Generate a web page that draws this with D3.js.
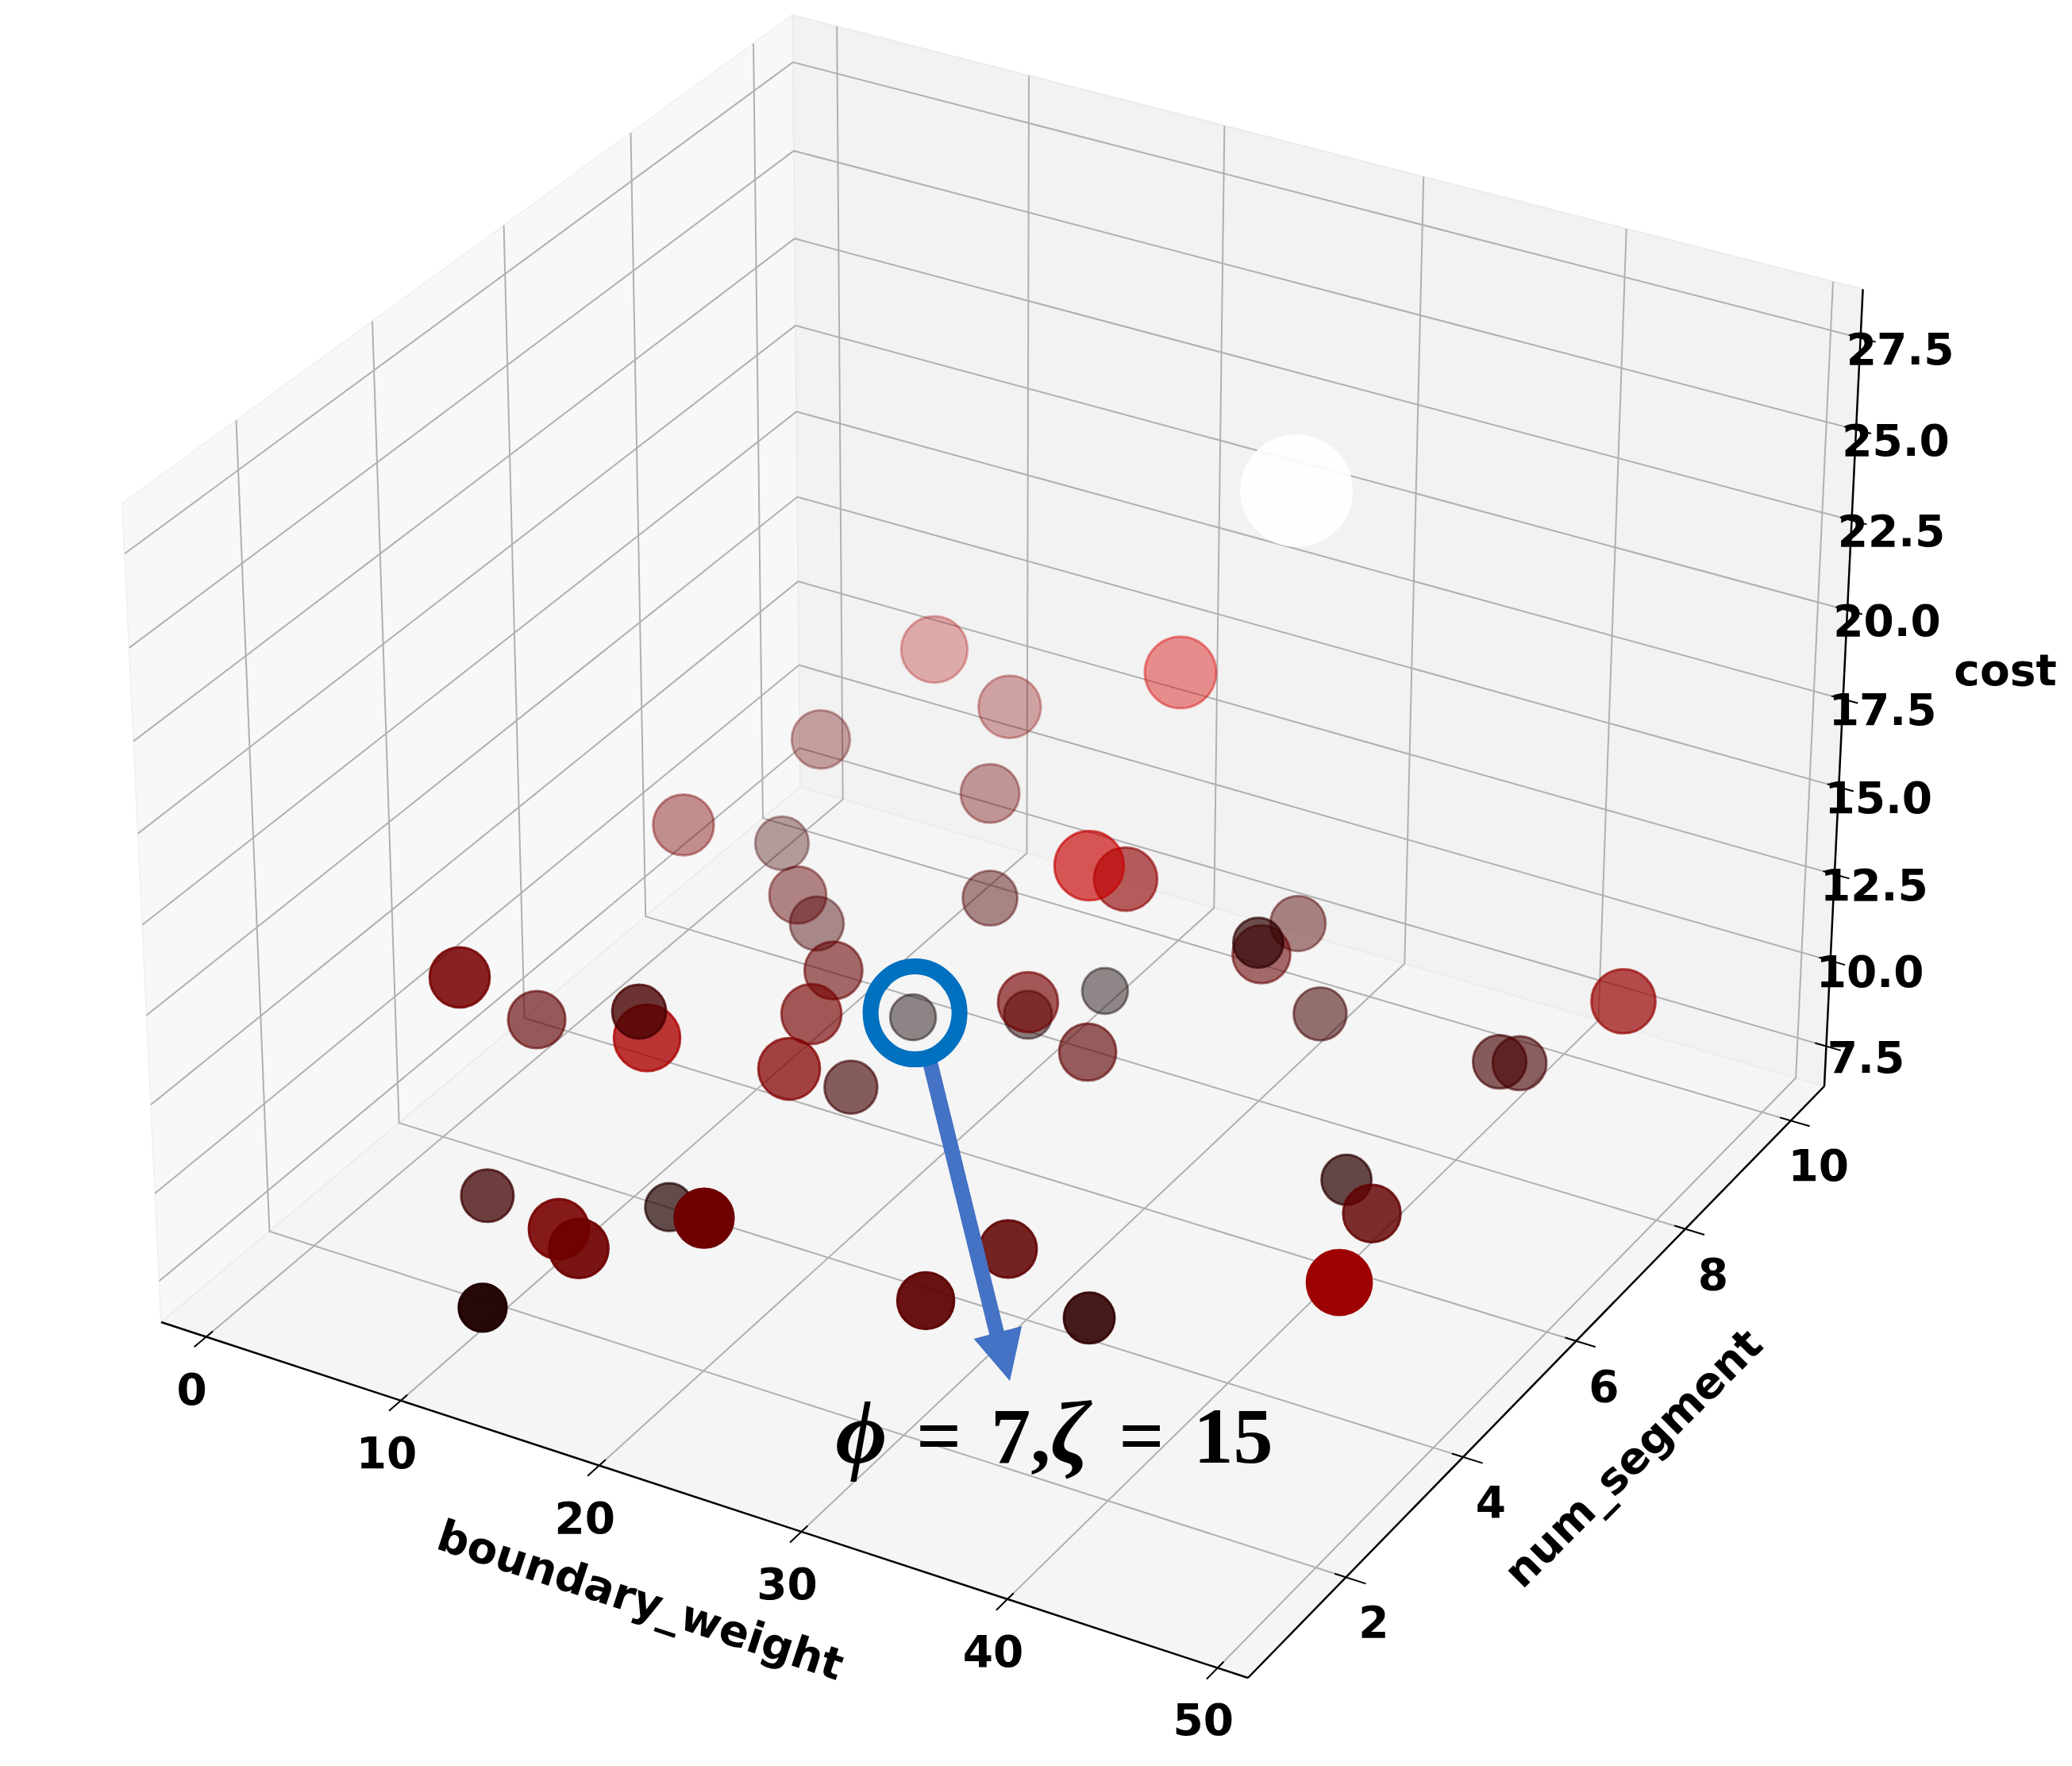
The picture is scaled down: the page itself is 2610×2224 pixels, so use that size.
<!DOCTYPE html>
<html><head><meta charset="utf-8"><script src="https://cdnjs.cloudflare.com/ajax/libs/d3/7.8.5/d3.min.js"></script>
<style>html,body{margin:0;background:#fff}</style></head><body><svg id="c" width="2610" height="2224"></svg>
<script>
// ---- data ----
const boundaryWeight=[33.05,20.54,7.94,12.23,5.62,3.08,13.62,5.72,9.08,9.75,13.76,16.35,6.32,4.44,11.78,12.16,15.13,16.82,16.82,14.77,23.14,20.14,21.74,25.59,32.10,30.01,29.03,32.47,24.13,25.10,46.72,41.51,41.97,38.66,42.14,45.03,34.02,29.69,28.64,21.13,12.81,15.12,13.45,7.08,13.22];
const numSegment=[7.4,9.8,9.7,9.6,8.5,7.0,8.8,7.8,7.0,7.1,6.1,7.9,2.5,4.2,3.6,3.6,5.3,4.4,5.4,7.1,6.3,7.3,8.1,6.5,7.2,8.0,9.0,8.2,7.0,7.3,8.5,8.2,8.4,6.5,5.7,4.1,3.7,3.8,2.8,1.7,3.7,1.6,1.8,2.6,0.7];
const cost=[24.96,14.59,13.42,12.56,12.13,11.40,11.40,10.12,10.34,9.47,10.28,10.11,14.29,10.18,12.57,11.89,10.47,10.57,8.49,7.56,10.64,8.24,7.99,9.31,12.49,10.60,9.83,8.98,13.67,13.00,11.30,9.13,8.86,7.88,8.80,9.93,7.59,8.62,8.58,11.34,6.99,9.58,9.51,8.06,9.02];
const metric=[1,.31,.24,.19,.14,.17,.145,.087,.125,.09,.135,.1,.16,.128,.09,.24,.16,.18,.08,.01,.16,.03,.01,.125,.05,.135,.105,.08,.28,.2,.21,.085,.09,.05,.13,.22,.058,.128,.123,.148,.03,.15,.16,.075,.03];
const highlighted=19;
const xTicks=[0,10,20,30,40,50],yTicks=[2,4,6,8,10],zTicks=[7.5,10,12.5,15,17.5,20,22.5,25,27.5];
const xTitle='boundary_weight',yTitle='num_segment',zTitle='cost';
// ---- projection of the unit cube onto the page (fitted to the frame) ----
const A=[203,1665,1],B=[1572,2113,1],C=[2298,1368,1],D=[1008,991,1],E=[154,634,1],G=[996,19,1];
function det(m){return m[0][0]*(m[1][1]*m[2][2]-m[1][2]*m[2][1])-m[0][1]*(m[1][0]*m[2][2]-m[1][2]*m[2][0])+m[0][2]*(m[1][0]*m[2][1]-m[1][1]*m[2][0]);}
function solve(m,b){const d=det(m);return [0,1,2].map(i=>{const t=m.map((r,k)=>r.map((v,j)=>j==i?b[k]:v));return det(t)/d;});}
const s1=solve([0,1,2].map(i=>[B[i],D[i],-C[i]]),A);
const beta=s1[0],delta=s1[1];
const r1=A[1]-delta*D[1],r2=1-delta;
const eps=(r1-r2*G[1])/(E[1]-G[1]);
const c1=B.map((v,i)=>beta*v-A[i]),c2=D.map((v,i)=>delta*v-A[i]),c3=E.map((v,i)=>eps*v-A[i]),c4=A;
const P=[0,1,2].map(i=>[c1[i],c2[i],c3[i],c4[i]]);
function proj(u,v,w){const h=P.map(r=>r[0]*u+r[1]*v+r[2]*w+r[3]);return [h[0]/h[2],h[1]/h[2]];}
const xs=d3.scaleLinear().domain([-2.34,51.43]).range([0,1]);
const ys=d3.scaleLinear().domain([0.38,10.65]).range([0,1]);
const zs=d3.scaleLinear().domain([6.32,28.82]).range([0,1]);
const hotR=d3.scaleLinear().domain([0,.365]).range([.0416,1]).clamp(true);
const hotG=d3.scaleLinear().domain([.365,.746]).range([0,1]).clamp(true);
const hotB=d3.scaleLinear().domain([.746,1]).range([0,1]).clamp(true);
const hot=v=>d3.rgb(hotR(v)*255,hotG(v)*255,hotB(v)*255).formatHex();
const radius=v=>Math.sqrt(850+4100*v);
const svg=d3.select('#c');
const line=d3.line();
const poly=(pts,fill,edge)=>svg.append('path').attr('d',line(pts.map(p=>proj(...p)))+'Z').attr('fill',fill).attr('stroke',edge).attr('stroke-width',2);
poly([[0,0,0],[0,1,0],[0,1,1],[0,0,1]],'#f8f8f8','#f2f2f2');
poly([[0,1,0],[1,1,0],[1,1,1],[0,1,1]],'#f2f2f2','#ececec');
poly([[0,0,0],[1,0,0],[1,1,0],[0,1,0]],'#f5f5f5','#ececec');
const gl=(pts)=>svg.append('path').attr('d',line(pts.map(p=>proj(...p)))).attr('fill','none').attr('stroke','#b0b0b0').attr('stroke-width',2);
xTicks.forEach(t=>{const u=xs(t);gl([[u,0,0],[u,1,0],[u,1,1]]);});
yTicks.forEach(t=>{const v=ys(t);gl([[1,v,0],[0,v,0],[0,v,1]]);});
zTicks.forEach(t=>{const w=zs(t);gl([[0,0,w],[0,1,w],[1,1,w]]);});
const bl=(pts,sw)=>svg.append('path').attr('d',line(pts.map(p=>proj(...p)))).attr('fill','none').attr('stroke','#000').attr('stroke-width',sw);
bl([[0,0,0],[1,0,0]],2.5);bl([[1,0,0],[1,1,0]],2.5);bl([[1,1,0],[1,1,1]],2.5);
const txt=(s,x,y,size,rot)=>svg.append('text').text(s).attr('text-anchor','middle').attr('dominant-baseline','central').attr('font-family','DejaVu Sans').attr('font-weight','bold').attr('font-size',size).attr('transform',`translate(${x},${y}) rotate(${rot||0})`);
xTicks.forEach(t=>{const u=xs(t);bl([[u,-0.0173,0],[u,0.0096,0]],2);const p=proj(u,0,0);txt(String(t),p[0]-18,p[1]+66,55);});
yTicks.forEach(t=>{const v=ys(t);bl([[0.99,v,0],[1.0175,v,0]],2);const p=proj(1,v,0);txt(String(t),p[0]+35,p[1]+57,55);});
zTicks.forEach(t=>{const w=zs(t);bl([[0.9895,1,w],[1.0135,1,w]],2);const p=proj(1,1,w);txt(t.toFixed(1),p[0]+50,p[1]+14,55);});
txt(xTitle,807,2015,55,18.2);
txt(yTitle,2057,1836,55,-45);
txt(zTitle,2526,844,55);
// ---- points, depth-shaded and painted far to near ----
const rows=metric.map((m,i)=>{const u=xs(boundaryWeight[i]),v=ys(numSegment[i]),w=zs(cost[i]);return {i,m,u,v,w,d:.495*u-.857*v+.4285*w};});
const [dMin,dMax]=d3.extent(rows,r=>r.d);
const alpha=d3.scaleLinear().domain([dMin,dMax]).range([.3,1]);
svg.append('g').selectAll('circle').data(rows.slice().sort((a,b)=>d3.ascending(a.d,b.d))).join('circle')
 .attr('cx',r=>proj(r.u,r.v,r.w)[0]).attr('cy',r=>proj(r.u,r.v,r.w)[1])
 .attr('r',r=>radius(r.m)-1).attr('fill',r=>hot(r.m)).attr('stroke',r=>hot(r.m)).attr('stroke-width',3)
 .attr('fill-opacity',r=>alpha(r.d)).attr('stroke-opacity',r=>alpha(r.d));
// ---- annotation on the highlighted point ----
const hp=proj(xs(boundaryWeight[highlighted]),ys(numSegment[highlighted]),zs(cost[highlighted]));
const blue='#4472C4';
svg.append('line').attr('x1',hp[0]+21).attr('y1',hp[1]+55).attr('x2',hp[0]+106).attr('y2',hp[1]+400).attr('stroke',blue).attr('stroke-width',19);
svg.append('path').attr('d',line([[hp[0]+76.5,hp[1]+405],[hp[0]+137,hp[1]+389],[hp[0]+122,hp[1]+458]])+'Z').attr('fill',blue);
svg.append('ellipse').attr('cx',hp[0]+2.5).attr('cy',hp[1]-5.5).attr('rx',56).attr('ry',58.5).attr('fill','none').attr('stroke','#0070C0').attr('stroke-width',20);
const note=svg.append('text').attr('x',1328).attr('y',1842).attr('text-anchor','middle').attr('font-family','Liberation Serif').attr('font-weight','bold').attr('font-size',100).attr('word-spacing',12);
note.append('tspan').attr('font-style','italic').attr('font-size',112).text('ϕ');
note.append('tspan').text(' = 7,');
note.append('tspan').attr('font-style','italic').attr('font-size',112).text('ζ');
note.append('tspan').text(' = 15');
</script></body></html>
